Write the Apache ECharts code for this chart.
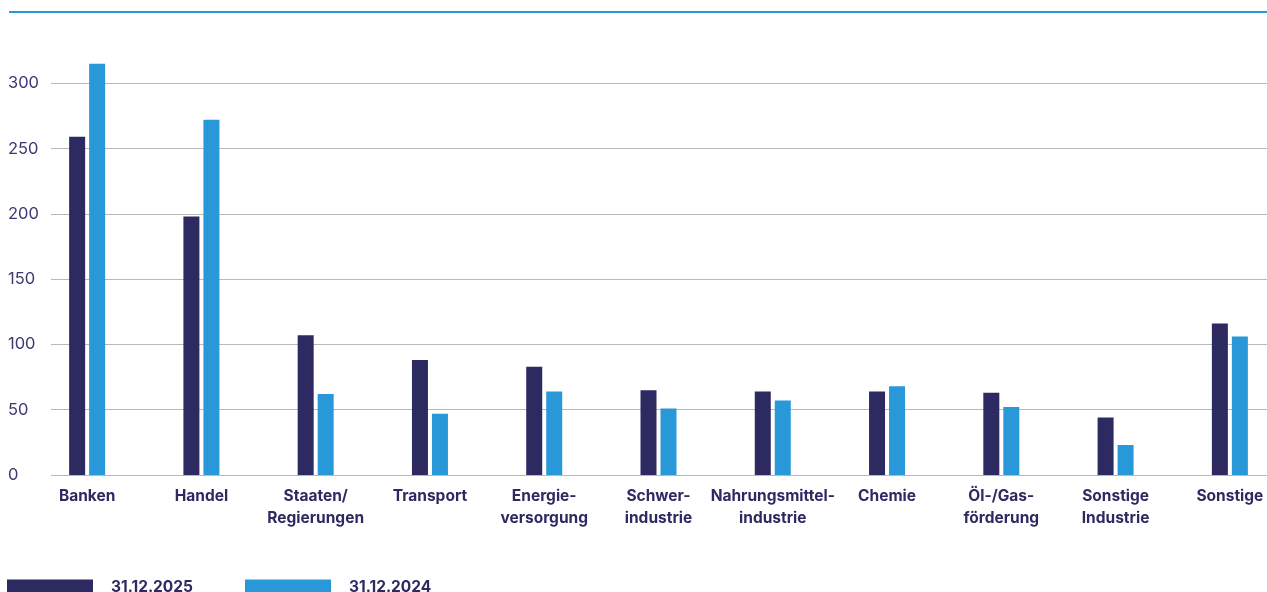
<!DOCTYPE html>
<html>
<head>
<meta charset="utf-8">
<script src="https://cdn.jsdelivr.net/npm/echarts@6/dist/echarts.min.js"></script>
<style>
  html, body { margin: 0; padding: 0; background: #ffffff; }
  #chart { width: 1267px; height: 592px; }
</style>
</head>
<body>
<div id="chart"></div>
<script>
// Sektoren (Kategorien der x-Achse)
const categories = [
  'Banken', 'Handel', 'Staaten/\nRegierungen', 'Transport', 'Energie-\nversorgung',
  'Schwer-\nindustrie', 'Nahrungsmittel-\nindustrie', 'Chemie', 'Öl-/Gas-\nförderung',
  'Sonstige\nIndustrie', 'Sonstige'
];
// Werte je Stichtag
const values2025 = [259, 198, 107, 88, 83, 65, 64, 64, 63, 44, 116];
const values2024 = [315, 272, 62, 47, 64, 51, 57, 68, 52, 23, 106];
const seriesNames = ['31.12.2025', '31.12.2024'];
// Beschriftungen der y-Achse
const yTicks = [0, 50, 100, 150, 200, 250, 300];

const DARK = '#2d2a62';
const LIGHT = '#2898d8';
const FONT = 'Inter, "Noto Sans", sans-serif';

const chart = echarts.init(document.getElementById('chart'), null, { renderer: 'canvas' });

const gridBottom = 117;
const pxPerUnit = (475 - 83.3) / 300;
const barMax = 330;

const legendText = {
  color: DARK, fontWeight: 'bold', fontSize: 15.5, padding: [0, 0, 0, 13], fontFamily: FONT
};

chart.setOption({
  animation: false,
  backgroundColor: '#ffffff',
  textStyle: { fontFamily: FONT },
  graphic: [{
    type: 'line',
    shape: { x1: 9, y1: 12, x2: 1267, y2: 12 },
    style: { stroke: LIGHT, lineWidth: 2 }
  }],
  legend: [
    {
      data: [seriesNames[0]], left: 7, top: 579, padding: 0,
      itemWidth: 86, itemHeight: 15, icon: 'rect', textStyle: legendText
    },
    {
      data: [seriesNames[1]], left: 245, top: 579, padding: 0,
      itemWidth: 86, itemHeight: 15, icon: 'rect', textStyle: legendText
    }
  ],
  grid: [
    // Raster und y-Beschriftung
    { left: 51, right: 0, top: 83.3, bottom: gridBottom, outerBoundsMode: 'none' },
    // Balken (reicht etwas über den rechten Rand hinaus)
    { left: 30, width: 1257, top: 475 - barMax * pxPerUnit, bottom: gridBottom, outerBoundsMode: 'none' }
  ],
  xAxis: [
    { type: 'category', gridIndex: 0, data: categories, show: false },
    {
      type: 'category', gridIndex: 1, data: categories,
      axisLine: { show: false }, axisTick: { show: false },
      axisLabel: {
        color: DARK, fontWeight: 'bold', fontSize: 15.5, fontFamily: FONT,
        margin: 10, lineHeight: 22, interval: 0
      }
    }
  ],
  yAxis: [
    {
      type: 'value', gridIndex: 0, min: yTicks[0], max: yTicks[yTicks.length - 1], interval: 50,
      axisLine: { show: false }, axisTick: { show: false },
      axisLabel: { color: '#3b3970', fontSize: 16.5, fontFamily: FONT, align: 'left', margin: 43 },
      splitLine: { show: true, lineStyle: { color: '#b8b8b8', width: 1.2 } }
    },
    {
      type: 'value', gridIndex: 1, min: 0, max: barMax, show: false,
      splitLine: { show: false }
    }
  ],
  series: [
    {
      name: seriesNames[0], type: 'bar', xAxisIndex: 1, yAxisIndex: 1,
      data: values2025, barWidth: 16, barGap: '25%',
      itemStyle: { color: DARK }
    },
    {
      name: seriesNames[1], type: 'bar', xAxisIndex: 1, yAxisIndex: 1,
      data: values2024, barWidth: 16, barGap: '25%',
      itemStyle: { color: LIGHT }
    }
  ]
});
</script>
</body>
</html>
